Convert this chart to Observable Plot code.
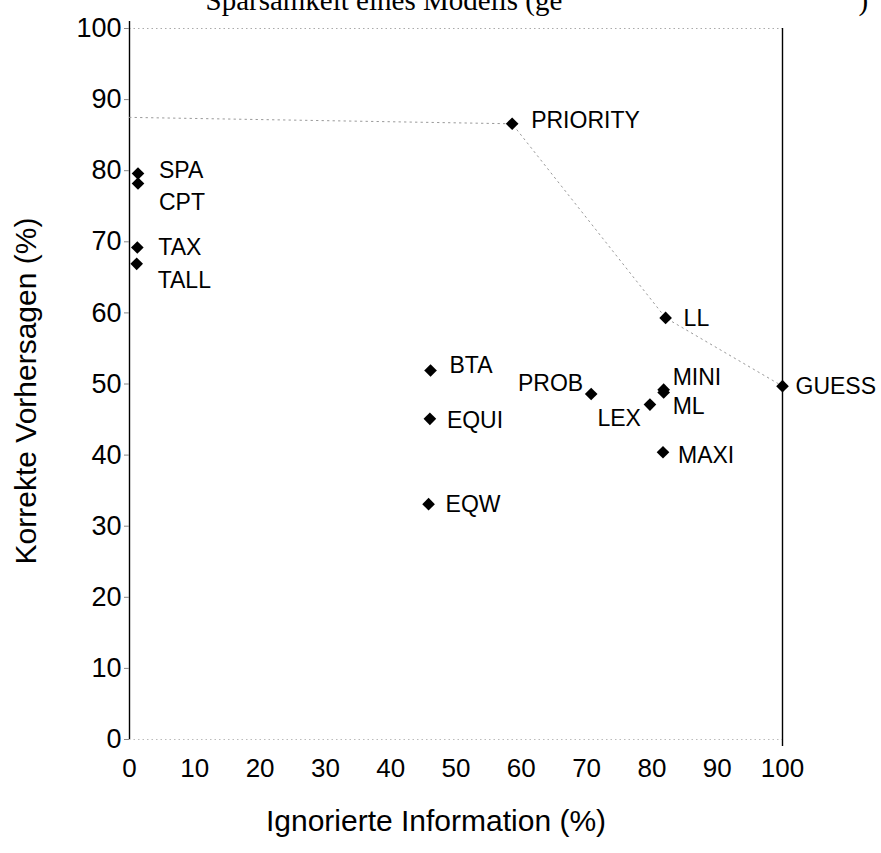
<!DOCTYPE html>
<html>
<head>
<meta charset="utf-8">
<script src="https://cdn.jsdelivr.net/npm/d3@7"></script>
<script src="https://cdn.jsdelivr.net/npm/@observablehq/plot@0.6"></script>
<style>
  html, body { margin: 0; padding: 0; background: #fff; }
  #chart svg { display: block; }
</style>
</head>
<body>
<div id="chart"></div>
<script>
// ---- data ----
const models  = ["PRIORITY", "SPA", "CPT", "TAX", "TALL", "LL", "BTA", "PROB", "MINI", "ML", "LEX", "GUESS", "EQUI", "MAXI", "EQW"];
const ignored = [58.6, 1.3, 1.3, 1.2, 1.1, 82.1, 46.1, 70.7, 81.8, 81.8, 79.7, 100, 46.0, 81.7, 45.8];
const correct = [86.6, 79.6, 78.2, 69.2, 66.9, 59.3, 51.9, 48.6, 49.2, 48.8, 47.1, 49.7, 45.1, 40.4, 33.1];

// dotted frontier line
const frontierX = [0, 58.6, 82.1, 100];
const frontierY = [87.5, 86.6, 59.3, 49.7];

const xTicks = [0, 10, 20, 30, 40, 50, 60, 70, 80, 90, 100];
const yTicks = [0, 10, 20, 30, 40, 50, 60, 70, 80, 90, 100];

const xTitle = "Ignorierte Information (%)";
const yTitle = "Korrekte Vorhersagen (%)";
const topTitleParts = ["Sparsamkeit eines Modells (ge", ")"];

// ---- label placement (style, not data) ----
const labelPos = {
  PRIORITY: {dx: 19, dy: -3, anchor: "start"},
  SPA:      {dx: 21, dy: -3, anchor: "start"},
  CPT:      {dx: 21, dy: 19, anchor: "start"},
  TAX:      {dx: 21, dy: 0,  anchor: "start"},
  TALL:     {dx: 21, dy: 17, anchor: "start"},
  LL:       {dx: 18, dy: 1,  anchor: "start"},
  BTA:      {dx: 19, dy: -5, anchor: "start"},
  PROB:     {dx: -8, dy: -10, anchor: "end"},
  MINI:     {dx: 9,  dy: -12, anchor: "start"},
  ML:       {dx: 9,  dy: 14, anchor: "start"},
  LEX:      {dx: -9, dy: 14, anchor: "end"},
  GUESS:    {dx: 13, dy: 0,  anchor: "start"},
  EQUI:     {dx: 17, dy: 2,  anchor: "start"},
  MAXI:     {dx: 15, dy: 3,  anchor: "start"},
  EQW:      {dx: 17, dy: 0,  anchor: "start"}
};

const points = models.map((m, i) => ({name: m, x: ignored[i], y: correct[i]}));
const frontier = frontierX.map((x, i) => ({x, y: frontierY[i]}));

const sans = "'Liberation Sans', Arial, Helvetica, sans-serif";
const serif = "'Liberation Serif', 'Times New Roman', serif";

const labelMarks = models.map(m => {
  const p = labelPos[m];
  return Plot.text(points.filter(d => d.name === m), {
    x: "x", y: "y", text: "name",
    dx: p.dx, dy: p.dy, textAnchor: p.anchor,
    fontSize: 23, fill: "black", fontFamily: sans
  });
});

const chart = Plot.plot({
  width: 881,
  height: 853,
  marginTop: 28,
  marginBottom: 114,
  marginLeft: 129,
  marginRight: 99,
  x: {domain: [0, 100]},
  y: {domain: [0, 100]},
  style: {fontFamily: sans, background: "white", color: "black"},
  marks: [
    // frame: faint dotted top and bottom, solid left and right
    Plot.ruleY([100], {stroke: "#aaa", strokeDasharray: "1.5,3", strokeWidth: 1}),
    Plot.ruleY([0], {stroke: "#bbb", strokeDasharray: "1.5,3", strokeWidth: 1}),
    Plot.ruleX([0], {y1: 0, y2: 101, stroke: "black", strokeWidth: 1.4}),
    Plot.ruleX([100], {y1: -1, y2: 100, stroke: "black", strokeWidth: 1.4}),
    // frontier
    Plot.line(frontier, {x: "x", y: "y", stroke: "#999", strokeWidth: 1, strokeDasharray: "1.5,4"}),
    // axes
    Plot.axisY({ticks: yTicks, tickSize: 5, tickPadding: 3, fontSize: 27, stroke: "#888", label: null, fill: "black"}),
    Plot.axisX({ticks: xTicks, tickSize: 0, tickPadding: 19, fontSize: 26, label: null, fill: "black"}),
    Plot.text([yTitle], {frameAnchor: "left", dx: -103, dy: 7, rotate: -90, fontSize: 30, textAnchor: "middle", fill: "black"}),
    Plot.text([xTitle], {frameAnchor: "bottom", dx: -20, dy: 91, fontSize: 30, textAnchor: "middle", fill: "black"}),
    // cut-off title at the very top of the scan
    Plot.text([topTitleParts[0]], {frameAnchor: "top-left", dx: 76, dy: -28, fontSize: 29, textAnchor: "start",
      lineAnchor: "middle", fontFamily: serif, fill: "black"}),
    Plot.text([topTitleParts[1]], {frameAnchor: "top-left", dx: 729, dy: -28, fontSize: 29, textAnchor: "start",
      lineAnchor: "middle", fontFamily: serif, fill: "black"}),
    // points
    Plot.dot(points, {x: "x", y: "y", symbol: "diamond2", r: 5.7, fill: "black", stroke: null}),
    ...labelMarks
  ]
});

document.getElementById("chart").appendChild(chart);
</script>
</body>
</html>
